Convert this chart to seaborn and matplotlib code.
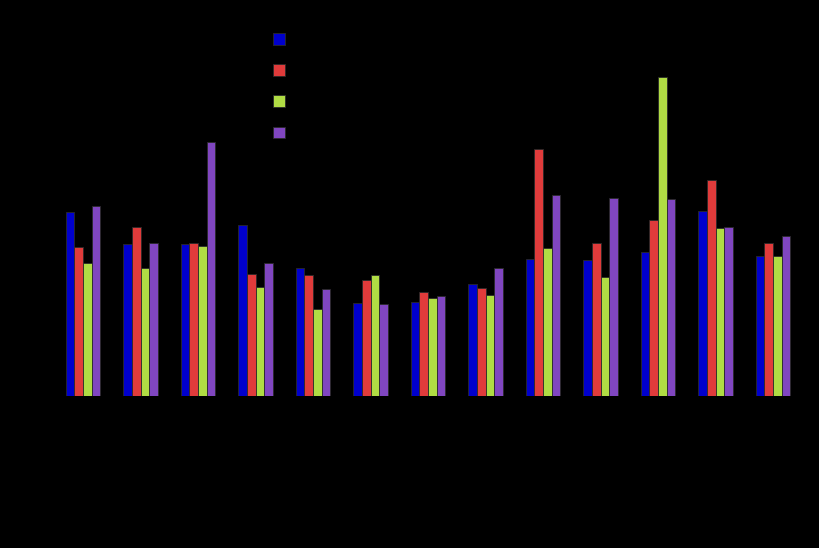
import seaborn as sns
import matplotlib.pyplot as plt
import pandas as pd

sns.set_theme(style='white')
plt.rcParams['font.family'] = ['DejaVu Sans']

# values (bar heights in chart units)
categories = ['1', '2', '3', '4', '5', '6', '7', '8', '9', '10', '11', '12', '13']
series_names = ['Series 1', 'Series 2', 'Series 3', 'Series 4']
series_1 = [184, 152, 152, 171, 128, 93, 94, 112, 137, 136, 144, 185, 140]
series_2 = [149, 169, 153, 122, 121, 116, 104, 108, 247, 153, 176, 216, 153]
series_3 = [133, 128, 150, 109, 87, 121, 98, 101, 148, 119, 319, 168, 140]
series_4 = [190, 153, 254, 133, 107, 92, 100, 128, 201, 198, 197, 169, 160]
colors = ['#0000cc', '#e03b3b', '#b0dc44', '#8046c0']

df = pd.DataFrame({
    'category': categories * 4,
    'series': [s for s in series_names for _ in categories],
    'value': series_1 + series_2 + series_3 + series_4,
})

fig = plt.figure(figsize=(8.2, 5.48), dpi=100, facecolor='black')
ax = fig.add_axes([0.0662, 0.2774, 0.9116, 0.686])
ax.set_facecolor('black')

sns.barplot(data=df, x='category', y='value', hue='series', palette=colors,
            saturation=1, width=0.6, gap=0, edgecolor='#2a2a2a', linewidth=0.6, ax=ax)

ax.set_xlim(-0.5, 12.5)
ax.set_ylim(0, 376)
ax.set_xlabel('')
ax.set_ylabel('')
ax.tick_params(colors='black', labelcolor='black')
for s in ax.spines.values():
    s.set_visible(False)

leg = ax.legend(loc='upper left', bbox_to_anchor=(0.2755, 1.0), frameon=False,
                handlelength=0.9, handleheight=0.9, labelspacing=1.24,
                fontsize=10, labelcolor='black')

fig.savefig('out.png', dpi=100, facecolor='black')
